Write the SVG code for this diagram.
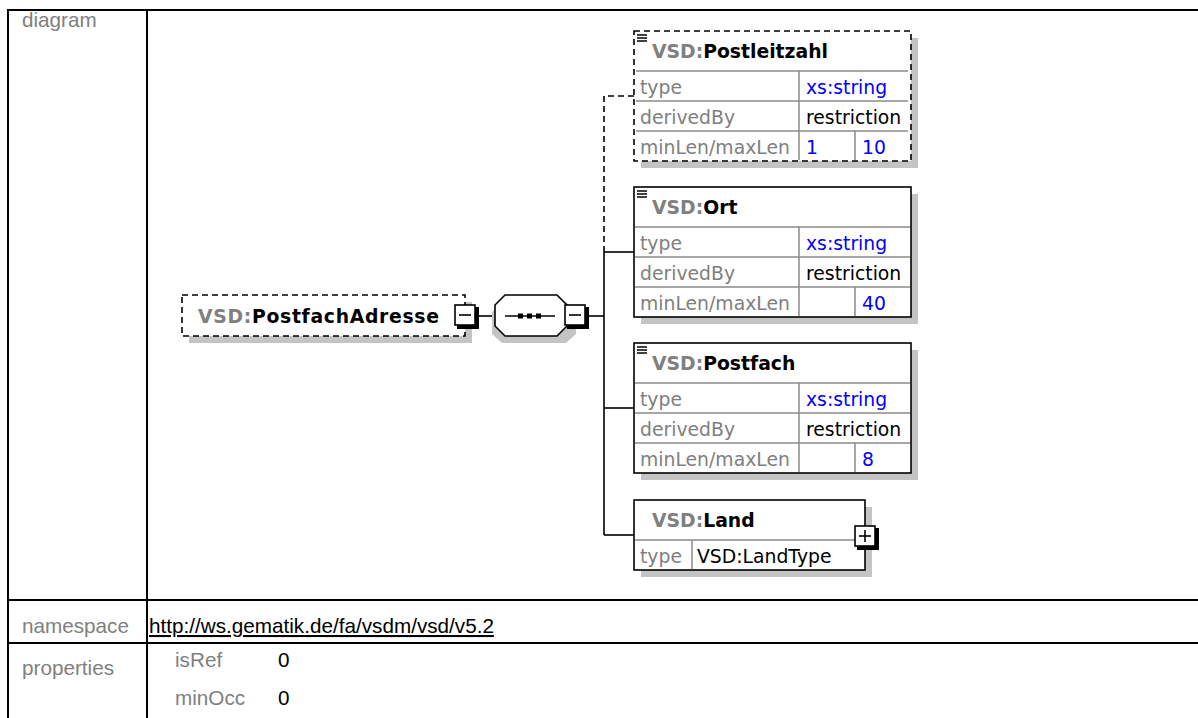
<svg xmlns="http://www.w3.org/2000/svg" width="1198" height="718" viewBox="0 0 1198 718">
<style>
.lbl{font-family:"Liberation Sans",Arial,sans-serif;font-size:20.7px;fill:#808080}
.val{font-family:"Liberation Sans",Arial,sans-serif;font-size:20.7px;fill:#000}
.frame{stroke:#000;stroke-width:2;fill:none}
.ttl{font-family:"DejaVu Sans",Verdana,sans-serif;font-weight:bold;font-size:18.8px;fill:#000}
.ns{fill:#808080}
.cell{font-family:"DejaVu Sans",Verdana,sans-serif;font-size:18.8px}
.g{fill:#808080}
.b{fill:#0000ff}
.k{fill:#000}
.shadow{fill:#c4c4c4}
.box{fill:#fff;stroke:#000;stroke-width:1.6}
.dbox{fill:#fff;stroke:#000;stroke-width:1.6;stroke-dasharray:6,4}
.grid{stroke:#8c8c8c;stroke-width:1.5;fill:none}
.conn{stroke:#000;stroke-width:1.6;fill:none}
.dconn{stroke:#000;stroke-width:1.6;fill:none;stroke-dasharray:6,4}
.icon{stroke:#000;stroke-width:1.5}
</style>
<defs>
<g id="minus">
<rect x="2" y="2" width="22" height="22" fill="#000"/>
<rect x="0" y="0" width="20" height="20" fill="#fff" stroke="#000" stroke-width="1.6"/>
<line x1="4" y1="10" x2="16" y2="10" stroke="#000" stroke-width="1.6"/>
</g>
<g id="plus">
<rect x="2" y="2" width="22" height="22" fill="#000"/>
<rect x="0" y="0" width="20" height="20" fill="#fff" stroke="#000" stroke-width="1.6"/>
<line x1="4" y1="10" x2="16" y2="10" stroke="#000" stroke-width="1.6"/>
<line x1="10" y1="4" x2="10" y2="16" stroke="#000" stroke-width="1.6"/>
</g>
<g id="doc">
<line x1="0" y1="0" x2="10" y2="0" class="icon"/>
<line x1="0" y1="3" x2="10" y2="3" class="icon"/>
<line x1="0" y1="6" x2="10" y2="6" class="icon"/>
</g>
</defs>
<rect width="1198" height="718" fill="#fff"/>

<g id="table">
<line x1="8" y1="10" x2="1198" y2="10" class="frame"/>
<line x1="8" y1="9" x2="8" y2="718" class="frame"/>
<line x1="147" y1="9" x2="147" y2="718" class="frame"/>
<line x1="8" y1="600" x2="1198" y2="600" class="frame"/>
<line x1="8" y1="643" x2="1198" y2="643" class="frame"/>
<text x="22" y="27" class="lbl">diagram</text>
<text x="22" y="633" class="lbl">namespace</text>
<text x="22" y="675" class="lbl">properties</text>
<text x="149" y="633" class="val" font-size="21.2" text-decoration="underline">http://ws.gematik.de/fa/vsdm/vsd/v5.2</text>
<text x="175" y="667" class="lbl">isRef</text>
<text x="278" y="667" class="val">0</text>
<text x="175" y="705" class="lbl">minOcc</text>
<text x="278" y="705" class="val">0</text>
</g>

<g id="connectors">
<line x1="475" y1="316" x2="495" y2="316" class="conn"/>
<line x1="587" y1="316" x2="604" y2="316" class="conn"/>
<path d="M634 96 H604 V252" class="dconn"/>
<path d="M604 252 V535" class="conn"/>
<line x1="604" y1="252" x2="634" y2="252" class="conn"/>
<line x1="604" y1="408" x2="634" y2="408" class="conn"/>
<line x1="604" y1="535" x2="634" y2="535" class="conn"/>
</g>

<g id="node-PostfachAdresse">
<rect x="189" y="302" width="283" height="41" class="shadow"/>
<rect x="182" y="295" width="283" height="41" class="dbox"/>
<text x="198" y="323" class="ttl" font-size="19.8" textLength="241" lengthAdjust="spacing"><tspan class="ns">VSD:</tspan>PostfachAdresse</text>
<use href="#minus" x="455" y="305"/>
</g>

<g id="node-sequence">
<path d="M502 302 H566 L576 312 V334 L566 343 H502 L492 334 V312 Z" class="shadow"/>
<path d="M505 295 H557 L567 305 V326 L557 336 H505 L495 326 V305 Z" fill="#fff" stroke="#000" stroke-width="1.6"/>
<line x1="505" y1="316" x2="555" y2="316" stroke="#000" stroke-width="1.6"/>
<rect x="518" y="313.5" width="5" height="5" fill="#000"/>
<rect x="527" y="313.5" width="5" height="5" fill="#000"/>
<rect x="536" y="313.5" width="5" height="5" fill="#000"/>
<use href="#minus" x="565" y="305"/>
</g>

<g id="node-Postleitzahl">
<rect x="641" y="38" width="277" height="130" class="shadow"/>
<rect x="634" y="31" width="277" height="130" class="dbox"/>
<use href="#doc" x="637" y="35"/>
<text x="652" y="58" class="ttl"><tspan class="ns">VSD:</tspan>Postleitzahl</text>
<path d="M636 71 H908 M636 101 H908 M636 131 H908 M799 71 V160 M855 131 V160" class="grid"/>
<text x="640" y="94" class="cell g">type</text>
<text x="806" y="94" class="cell b">xs:string</text>
<text x="640" y="124" class="cell g">derivedBy</text>
<text x="806" y="124" class="cell k">restriction</text>
<text x="640" y="154" class="cell g">minLen/maxLen</text>
<text x="806" y="154" class="cell b">1</text>
<text x="862" y="154" class="cell b">10</text>
</g>

<g id="node-Ort">
<rect x="641" y="194" width="277" height="130" class="shadow"/>
<rect x="634" y="187" width="277" height="130" class="box"/>
<use href="#doc" x="637" y="191"/>
<text x="652" y="214" class="ttl"><tspan class="ns">VSD:</tspan>Ort</text>
<path d="M635 227 H910 M635 257 H910 M635 287 H910 M799 227 V316 M855 287 V316" class="grid"/>
<text x="640" y="250" class="cell g">type</text>
<text x="806" y="250" class="cell b">xs:string</text>
<text x="640" y="280" class="cell g">derivedBy</text>
<text x="806" y="280" class="cell k">restriction</text>
<text x="640" y="310" class="cell g">minLen/maxLen</text>
<text x="862" y="310" class="cell b">40</text>
</g>

<g id="node-Postfach">
<rect x="641" y="350" width="277" height="130" class="shadow"/>
<rect x="634" y="343" width="277" height="130" class="box"/>
<use href="#doc" x="637" y="347"/>
<text x="652" y="370" class="ttl"><tspan class="ns">VSD:</tspan>Postfach</text>
<path d="M635 383 H910 M635 413 H910 M635 443 H910 M799 383 V472 M855 443 V472" class="grid"/>
<text x="640" y="406" class="cell g">type</text>
<text x="806" y="406" class="cell b">xs:string</text>
<text x="640" y="436" class="cell g">derivedBy</text>
<text x="806" y="436" class="cell k">restriction</text>
<text x="640" y="466" class="cell g">minLen/maxLen</text>
<text x="862" y="466" class="cell b">8</text>
</g>

<g id="node-Land">
<rect x="641" y="507" width="231" height="70" class="shadow"/>
<rect x="634" y="500" width="231" height="70" class="box"/>
<text x="652" y="527" class="ttl"><tspan class="ns">VSD:</tspan>Land</text>
<path d="M635 540 H864 M692 540 V569" class="grid"/>
<text x="640" y="563" class="cell g">type</text>
<text x="697" y="563" class="cell k">VSD:LandType</text>
<use href="#plus" x="855" y="526"/>
</g>
</svg>
